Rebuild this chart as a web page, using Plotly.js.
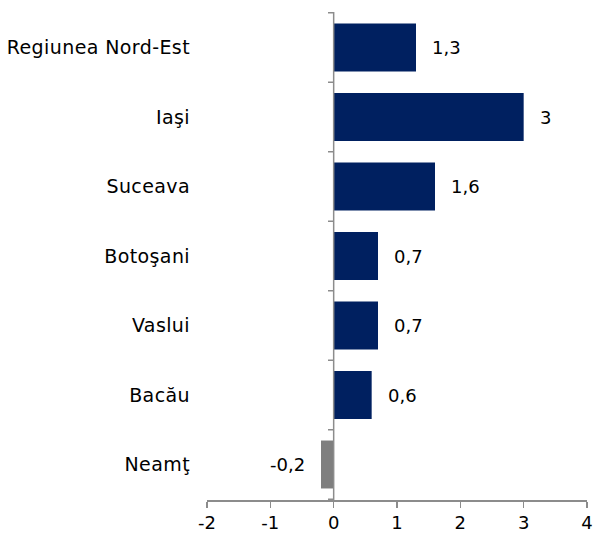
<!DOCTYPE html>
<html>
<head>
<meta charset="utf-8">
<script src="https://cdn.plot.ly/plotly-3.0.1.min.js"></script>
<style>html,body{margin:0;padding:0;background:#fff;}#chart{width:596px;height:536px;}
#chart .ytick text{letter-spacing:0.4px;}
</style>
</head>
<body>
<div id="chart"></div>
<script>
const categories = ["Regiunea Nord-Est", "Iaşi", "Suceava", "Botoşani", "Vaslui", "Bacău", "Neamţ"];
const values = [1.3, 3, 1.6, 0.7, 0.7, 0.6, -0.2];
const xTickVals = [-2, -1, 0, 1, 2, 3, 4];
const xTickText = ["-2", "-1", "0", "1", "2", "3", "4"];

const navy = "#002060";
const grey = "#7f7f7f";
const axisColor = "#8c8c8c";
const fontFam = "DejaVu Sans, Verdana, sans-serif";

const fmt = v => String(v).replace(".", ",");

const trace = {
  type: "bar",
  orientation: "h",
  x: values,
  y: categories,
  width: 0.69,
  marker: { color: values.map(v => v < 0 ? grey : navy) },
  hoverinfo: "none"
};

const annotations = values.map((v, i) => ({
  x: v, y: categories[i], xref: "x", yref: "y",
  text: fmt(v), showarrow: false,
  xanchor: v < 0 ? "right" : "left",
  xshift: v < 0 ? -14 : 14,
  font: { family: fontFam, size: 18, color: "#000" }
}));

const shapes = [{
  type: "line", xref: "x", yref: "paper", x0: 0, x1: 0, y0: 0, y1: 1,
  line: { color: axisColor, width: 1.5 }
}];
for (let k = 0; k <= categories.length; k++) {
  shapes.push({
    type: "line", xref: "x", yref: "y",
    x0: -0.09, x1: 0, y0: k - 0.5, y1: k - 0.5,
    line: { color: axisColor, width: 1.5 }
  });
}

const layout = {
  width: 596, height: 536,
  margin: { l: 207, r: 9, t: 12, b: 36 },
  paper_bgcolor: "#fff", plot_bgcolor: "#fff",
  showlegend: false,
  font: { family: fontFam, size: 18, color: "#000" },
  xaxis: {
    range: [-2, 4],
    tickvals: xTickVals, ticktext: xTickText,
    showgrid: false, zeroline: false,
    showline: true, linecolor: axisColor, linewidth: 1.5,
    ticks: "outside", ticklen: 6, tickcolor: axisColor, tickwidth: 1.5,
    tickfont: { family: fontFam, size: 18, color: "#000" }
  },
  yaxis: {
    type: "category",
    autorange: "reversed",
    showgrid: false, zeroline: false, showline: false,
    ticks: "",
    ticklabelstandoff: 16,
    tickfont: { family: fontFam, size: 19, color: "#000" }
  },
  shapes: shapes,
  annotations: annotations
};

Plotly.newPlot("chart", [trace], layout, { staticPlot: true, displayModeBar: false });
</script>
</body>
</html>
